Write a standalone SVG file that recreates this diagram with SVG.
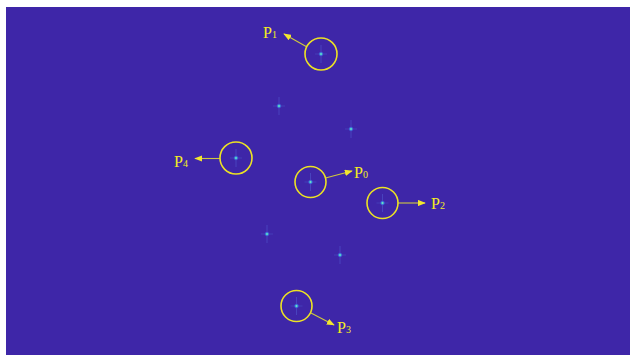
<svg xmlns="http://www.w3.org/2000/svg" width="630" height="355" viewBox="0 0 630 355">
<style>
.ring{fill:none;stroke:#ECE224;stroke-width:1.6}
.lbl{font-family:"Liberation Serif","Times New Roman",serif;font-size:16px;fill:#F5EE1E}
.sub{font-size:10px}
.arr{stroke:#CFC83E;stroke-width:1.1;fill:none;marker-end:url(#ah)}
.armv{stroke:#5870E0;stroke-width:1;opacity:0.4}
.armh{stroke:#5870E0;stroke-width:1;opacity:0.3}
</style>
<defs>
<marker id="ah" viewBox="0 0 10 8" refX="9" refY="4" markerWidth="8" markerHeight="6.4" markerUnits="userSpaceOnUse" orient="auto">
<path d="M0,0 L10,4 L0,8 Z" fill="#F3E72E"/>
</marker>
<radialGradient id="glow">
<stop offset="0" stop-color="#B8F5A0"/>
<stop offset="0.3" stop-color="#38C0D8"/>
<stop offset="0.65" stop-color="#3F6AE6" stop-opacity="0.55"/>
<stop offset="1" stop-color="#3E26A8" stop-opacity="0"/>
</radialGradient>
<g id="star">
<line class="armv" x1="0" y1="-9" x2="0" y2="9"/>
<line class="armh" x1="-6" y1="0" x2="6" y2="0"/>
<circle r="3" fill="url(#glow)"/>
</g>
</defs>
<rect x="6" y="7" width="624" height="348" fill="#3E26A8"/>
<g id="stars">
<use href="#star" x="279" y="106"/>
<use href="#star" x="351" y="129"/>
<use href="#star" x="267" y="234"/>
<use href="#star" x="340" y="255"/>
</g>
<g id="connectors">
<line class="arr" x1="307" y1="47" x2="284" y2="34"/>
<line class="arr" x1="220" y1="158.5" x2="195" y2="158.5"/>
<line class="arr" x1="325.5" y1="178" x2="352" y2="171"/>
<line class="arr" x1="398" y1="203" x2="425" y2="203"/>
<line class="arr" x1="311" y1="313" x2="334" y2="325"/>
</g>
<g id="P1">
<use href="#star" x="321" y="54"/>
<circle class="ring" cx="321" cy="54" r="16"/>
<text class="lbl" x="263" y="38">P<tspan class="sub">1</tspan></text>
</g>
<g id="P4">
<use href="#star" x="236" y="158"/>
<circle class="ring" cx="236" cy="158" r="16"/>
<text class="lbl" x="174" y="167">P<tspan class="sub">4</tspan></text>
</g>
<g id="P0">
<use href="#star" x="310.5" y="182"/>
<circle class="ring" cx="310.5" cy="182" r="15.5"/>
<text class="lbl" x="354" y="178">P<tspan class="sub">0</tspan></text>
</g>
<g id="P2">
<use href="#star" x="382.5" y="203"/>
<circle class="ring" cx="382.5" cy="203" r="15.5"/>
<text class="lbl" x="431" y="209">P<tspan class="sub">2</tspan></text>
</g>
<g id="P3">
<use href="#star" x="296.5" y="306"/>
<circle class="ring" cx="296.5" cy="306" r="15.5"/>
<text class="lbl" x="337" y="333">P<tspan class="sub">3</tspan></text>
</g>
</svg>
